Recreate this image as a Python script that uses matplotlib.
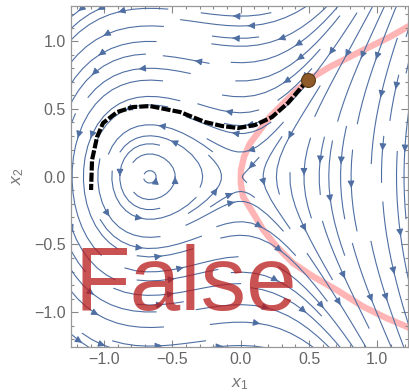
import numpy as np
import matplotlib
matplotlib.use("Agg")
import matplotlib.pyplot as plt
from matplotlib.ticker import MultipleLocator

plt.rcParams['font.family'] = ['Liberation Sans', 'DejaVu Sans']
plt.rcParams['mathtext.fontset'] = 'custom'
plt.rcParams['mathtext.rm'] = 'Liberation Sans'
plt.rcParams['mathtext.it'] = 'Liberation Sans:italic'

# vector field parameters: x1' = -x2, x2' = -x1 - k*x1^2
k = 1.5

# boundary curve (pink)
pink_x = [1.26, 1.215, 1.093, 0.947, 0.800, 0.654, 0.531, 0.410, 0.312, 0.214, 0.141,
          0.068, 0.024, 0.002, 0.000, 0.017, 0.092, 0.165, 0.264, 0.385, 0.531,
          0.703, 0.898, 1.069, 1.215, 1.26]
pink_y = [1.125, 1.102, 1.032, 0.959, 0.885, 0.811, 0.737, 0.639, 0.541, 0.442, 0.344,
          0.246, 0.147, 0.049, -0.049, -0.147, -0.270, -0.393, -0.516, -0.639, -0.737,
          -0.836, -0.959, -1.044, -1.106, -1.13]

# trajectory (black dashed)
traj_x = [0.490, 0.471, 0.346, 0.229, 0.105, -0.020, -0.137, -0.261, -0.444, -0.664,
          -0.788, -0.905, -1.008, -1.052, -1.089, -1.096]
traj_y = [0.710, 0.691, 0.544, 0.440, 0.381, 0.359, 0.374, 0.403, 0.477, 0.521,
          0.514, 0.477, 0.396, 0.293, 0.123, -0.098]

start_pt = (0.49, 0.713)

fig = plt.figure(figsize=(4.09, 3.92), dpi=100)
ax = fig.add_axes([0.1729, 0.1156, 0.8247, 0.869])

xs = np.linspace(-1.3, 1.3, 120)
ys = np.linspace(-1.3, 1.3, 120)
X1, X2 = np.meshgrid(xs, ys)
U = -X2
V = -X1 - k * X1**2
ax.streamplot(X1, X2, U, V, density=1.0, color='#4f6fa3', linewidth=0.8, arrowsize=1.0,
              arrowstyle='-|>', maxlength=0.7, zorder=2)

ax.plot(pink_x, pink_y, color='#ff9c9c', lw=4.6, alpha=0.75, solid_capstyle='butt', zorder=1.5)
ax.plot(traj_x, traj_y, color='black', lw=3.0, dashes=(2.2, 0.5), zorder=4)
ax.plot(*start_pt, 'o', ms=10, color='#8e5a2a', mec='#5a3a1a', mew=0.8, zorder=5)

ax.text(-1.22, -0.983, 'False', fontsize=65.5, color=(0.72, 0.1, 0.1), alpha=0.75,
        ha='left', va='baseline', zorder=6)

ax.set_xlim(-1.245, 1.225)
ax.set_ylim(-1.254, 1.259)
ax.xaxis.set_major_locator(MultipleLocator(0.5))
ax.yaxis.set_major_locator(MultipleLocator(0.5))
ax.xaxis.set_minor_locator(MultipleLocator(0.1))
ax.yaxis.set_minor_locator(MultipleLocator(0.1))
ax.tick_params(which='both', direction='in', top=True, right=True, colors='#888888',
               labelcolor='#666666', labelsize=11.5, width=0.8)
ax.tick_params(which='major', length=5)
ax.tick_params(which='minor', length=2.5)
for s in ax.spines.values():
    s.set_color('#999999')
    s.set_linewidth(0.9)
ax.set_xlabel('$x_1$', fontsize=12.5, color='#777777', labelpad=7)
ax.set_ylabel('$x_2$', fontsize=12.5, color='#777777', labelpad=6)

fig.savefig('out.png', dpi=100)
